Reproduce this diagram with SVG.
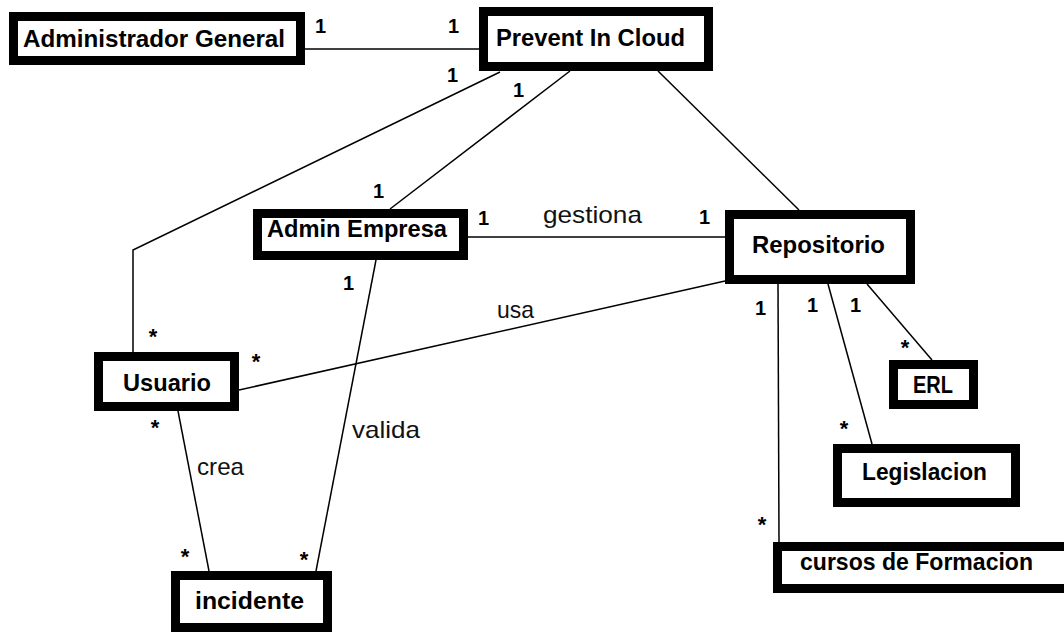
<svg xmlns="http://www.w3.org/2000/svg" width="1064" height="632" viewBox="0 0 1064 632">
<style>
.box{fill:#fff;stroke:#000;stroke-width:9}
.nt{font-family:"Liberation Sans",Arial,sans-serif;font-weight:bold;font-size:24px;fill:#000}
.lb{font-family:"Liberation Sans",Arial,sans-serif;font-size:24px;fill:#111}
.m{font-family:"Liberation Sans",Arial,sans-serif;font-weight:bold;font-size:20px;fill:#000}
.s{font-family:"Liberation Sans",Arial,sans-serif;font-weight:bold;font-size:22px;fill:#000;text-anchor:middle}
.c{fill:none;stroke:#000;stroke-width:1.5}
</style>
<rect width="1064" height="632" fill="#fff"/>
<g id="connectors">
<line class="c" x1="305" y1="49" x2="479" y2="49"/>
<polyline class="c" points="500,72 133,250 133,352"/>
<line class="c" x1="570" y1="71" x2="390" y2="209"/>
<line class="c" x1="658" y1="71" x2="799" y2="210"/>
<line class="c" x1="468" y1="237" x2="725" y2="237"/>
<line class="c" x1="725" y1="281" x2="239" y2="390"/>
<line class="c" x1="376" y1="260" x2="316" y2="571"/>
<line class="c" x1="178" y1="411" x2="209" y2="571"/>
<line class="c" x1="778" y1="284" x2="779" y2="542"/>
<line class="c" x1="828" y1="284" x2="872" y2="444"/>
<line class="c" x1="867" y1="284" x2="932" y2="360"/>
<text class="m" x="315" y="33">1</text>
<text class="m" x="448" y="33">1</text>
<text class="m" x="447" y="82">1</text>
<text class="m" x="513" y="97">1</text>
<text class="m" x="373" y="198">1</text>
<text class="m" x="478" y="225">1</text>
<text class="m" x="699" y="224">1</text>
<text class="m" x="343" y="290">1</text>
<text class="m" x="755" y="315">1</text>
<text class="m" x="807" y="312">1</text>
<text class="m" x="850" y="312">1</text>
<text class="lb" x="543" y="223" textLength="99" lengthAdjust="spacingAndGlyphs">gestiona</text>
<text class="lb" x="497" y="318" textLength="37" lengthAdjust="spacingAndGlyphs">usa</text>
<text class="lb" x="352" y="438" textLength="68" lengthAdjust="spacingAndGlyphs">valida</text>
<text class="lb" x="197" y="475" textLength="47" lengthAdjust="spacingAndGlyphs">crea</text>
<text class="s" x="153" y="344">*</text>
<text class="s" x="256" y="369">*</text>
<text class="s" x="155" y="435">*</text>
<text class="s" x="185" y="564">*</text>
<text class="s" x="304" y="567">*</text>
<text class="s" x="905" y="355">*</text>
<text class="s" x="844" y="436">*</text>
<text class="s" x="762" y="532">*</text>
</g>
<g id="administrador-general">
<rect class="box" x="13.5" y="16.5" width="287" height="44"/>
<text class="nt" x="23" y="47" textLength="262" lengthAdjust="spacingAndGlyphs">Administrador General</text>
</g>
<g id="prevent-in-cloud">
<rect class="box" x="483.5" y="11.5" width="225" height="55"/>
<text class="nt" x="496" y="46" textLength="189" lengthAdjust="spacingAndGlyphs">Prevent In Cloud</text>
</g>
<g id="admin-empresa">
<rect class="box" x="257.5" y="213.5" width="206" height="42"/>
<text class="nt" x="267" y="237" textLength="180" lengthAdjust="spacingAndGlyphs">Admin Empresa</text>
</g>
<g id="repositorio">
<rect class="box" x="729.5" y="214.5" width="181" height="65"/>
<text class="nt" x="752" y="253" textLength="133" lengthAdjust="spacingAndGlyphs">Repositorio</text>
</g>
<g id="usuario">
<rect class="box" x="98.5" y="356.5" width="136" height="50"/>
<text class="nt" x="123" y="391" textLength="88" lengthAdjust="spacingAndGlyphs">Usuario</text>
</g>
<g id="incidente">
<rect class="box" x="175.5" y="575.5" width="152" height="52"/>
<text class="nt" x="195" y="609" textLength="109" lengthAdjust="spacingAndGlyphs">incidente</text>
</g>
<g id="erl">
<rect class="box" x="893.5" y="364.5" width="80" height="40"/>
<text class="nt" x="913" y="393" textLength="40" lengthAdjust="spacingAndGlyphs">ERL</text>
</g>
<g id="legislacion">
<rect class="box" x="837.5" y="448.5" width="178" height="54"/>
<text class="nt" x="862" y="480" textLength="125" lengthAdjust="spacingAndGlyphs">Legislacion</text>
</g>
<g id="cursos-de-formacion">
<rect class="box" x="777.5" y="546.5" width="300" height="42"/>
<text class="nt" x="800" y="570" textLength="233" lengthAdjust="spacingAndGlyphs">cursos de Formacion</text>
</g>
</svg>
